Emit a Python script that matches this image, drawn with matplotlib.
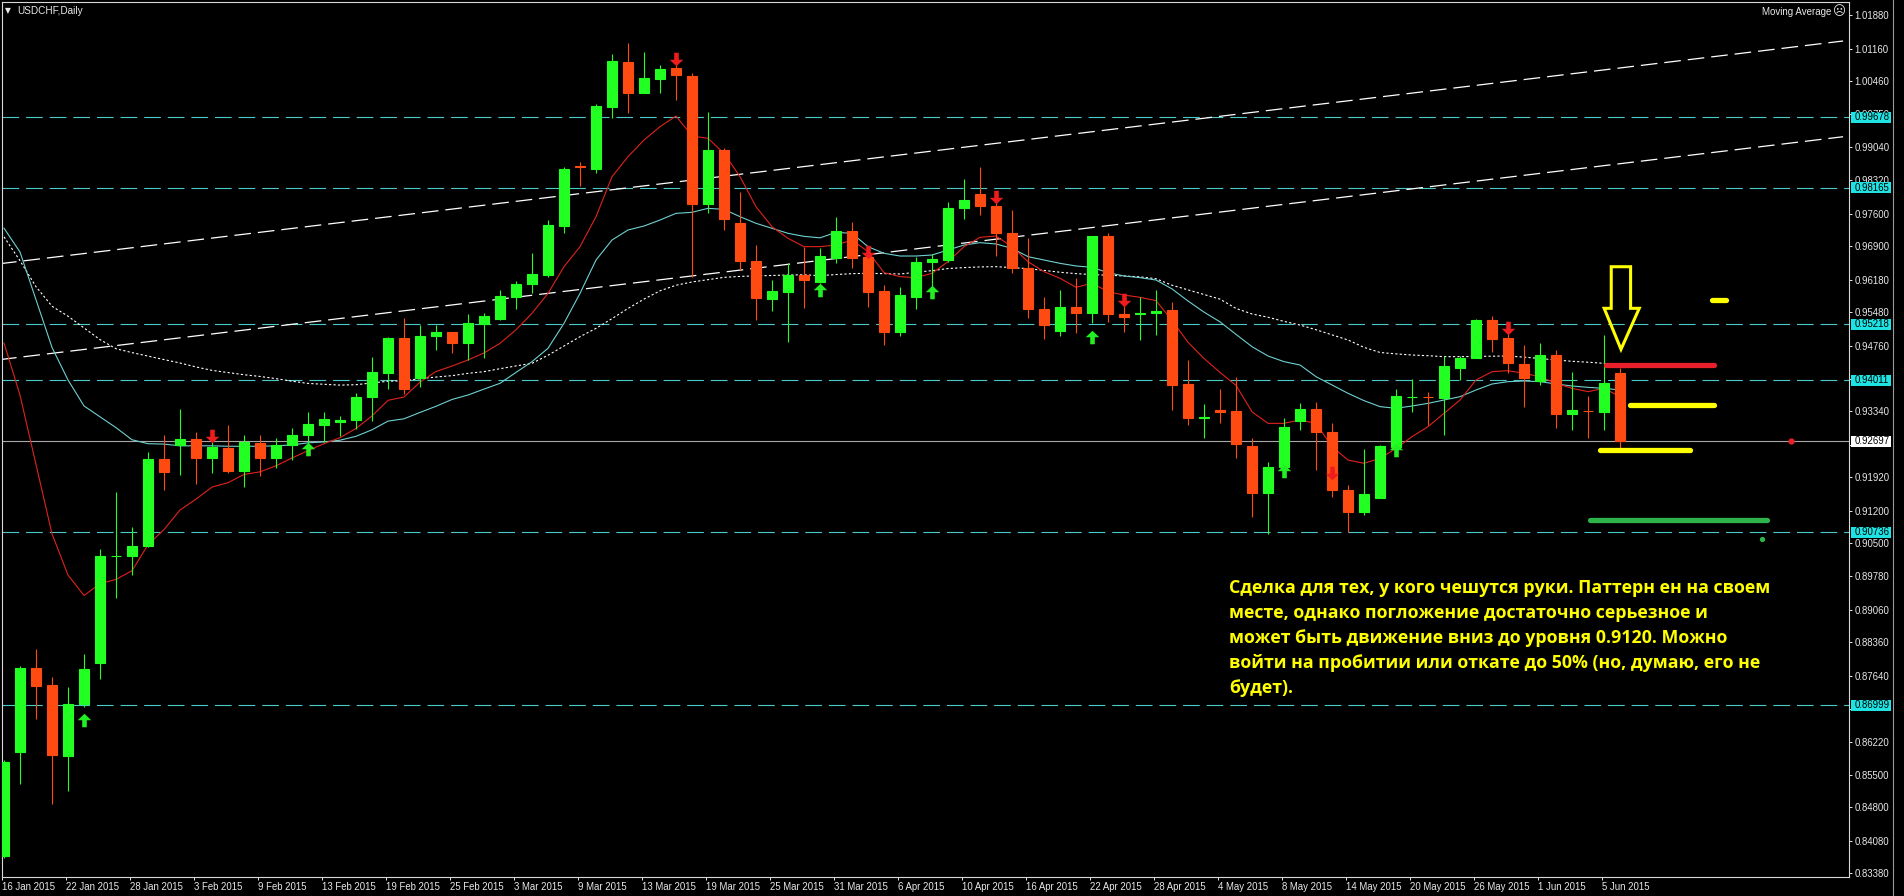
import matplotlib
matplotlib.use('Agg')
import matplotlib.pyplot as plt
from matplotlib.patches import Rectangle, Polygon
from matplotlib.path import Path
from matplotlib.lines import Line2D
from matplotlib.transforms import blended_transform_factory

plt.rcParams['lines.scale_dashes'] = False

# Daily candles, 16 Jan 2015 .. 8 Jun 2015 (index 0 .. 101)
opens = [0.83753, 0.86005, 0.87800, 0.87435, 0.85902, 0.87024, 0.87922, 0.90212, 0.90231, 0.90437,
         0.92307, 0.92606, 0.92746, 0.92325, 0.92559, 0.92045, 0.92662, 0.92325, 0.92606, 0.92840,
         0.93055, 0.93101, 0.93148, 0.93644, 0.94177, 0.94915, 0.94055, 0.94962, 0.95044, 0.94807,
         0.95224, 0.95332, 0.95814, 0.96079, 0.96281, 0.97344, 0.98638, 0.98573, 0.99910, 1.00880,
         1.00198, 1.00514, 1.00736, 1.00578, 0.97804, 0.98976, 0.97395, 0.96575, 0.95770, 0.95921,
         0.96281, 0.96137, 0.96654, 0.97229, 0.96676, 0.95936, 0.95059, 0.95813, 0.96554, 0.96604,
         0.97718, 0.98027, 0.97768, 0.97193, 0.96424, 0.95555, 0.95080, 0.95583, 0.95461, 0.97121,
         0.95432, 0.95440, 0.95468, 0.95526, 0.93923, 0.93204, 0.93370, 0.93341, 0.92601, 0.91573,
         0.92134, 0.93140, 0.93384, 0.92902, 0.91645, 0.91178, 0.91479, 0.92579, 0.93650, 0.93657,
         0.93636, 0.94282, 0.94484, 0.95310, 0.94915, 0.94354, 0.94002, 0.94548, 0.93276, 0.93348,
         0.93334, 0.94160]
highs = [0.85820, 0.87850, 0.88221, 0.87613, 0.87407, 0.88109, 0.90371, 0.91606, 0.90839, 0.92456,
         0.92830, 0.93382, 0.92896, 0.92709, 0.93036, 0.92821, 0.92840, 0.92756, 0.92980, 0.93335,
         0.93316, 0.93242, 0.93737, 0.94504, 0.94943, 0.95355, 0.95205, 0.95205, 0.95060, 0.95433,
         0.95454, 0.95957, 0.96158, 0.96748, 0.97467, 0.98616, 0.98717, 0.99967, 1.01046, 1.01276,
         1.01096, 1.00808, 1.00880, 1.00643, 0.99802, 0.99012, 0.98077, 0.96927, 0.96173, 0.96532,
         0.96891, 0.96855, 0.97538, 0.97430, 0.96855, 0.96065, 0.96029, 0.96676, 0.96733, 0.97862,
         0.98343, 0.98616, 0.97898, 0.97682, 0.97071, 0.95813, 0.95957, 0.96209, 0.97121, 0.97179,
         0.95741, 0.95813, 0.95957, 0.95705, 0.94448, 0.93499, 0.93815, 0.94088, 0.92773, 0.92256,
         0.93190, 0.93513, 0.93549, 0.93097, 0.91753, 0.92522, 0.92615, 0.93815, 0.94031, 0.93765,
         0.94534, 0.94534, 0.95325, 0.95396, 0.95274, 0.94771, 0.94807, 0.94663, 0.94196, 0.93679,
         0.94987, 0.94268]
lows = [0.83720, 0.85304, 0.86706, 0.84873, 0.85163, 0.86958, 0.87566, 0.89315, 0.89810, 0.90418,
        0.91652, 0.91961, 0.91774, 0.92008, 0.92008, 0.91708, 0.91942, 0.92129, 0.92288, 0.92568,
        0.92690, 0.92802, 0.92961, 0.93130, 0.93821, 0.93709, 0.93859, 0.94663, 0.94592, 0.94448,
        0.94484, 0.95310, 0.95540, 0.95885, 0.96245, 0.97179, 0.98207, 0.98487, 0.99673, 0.99781,
        1.00198, 1.00198, 1.00054, 0.96245, 0.97610, 0.97251, 0.96389, 0.95310, 0.95505, 0.94843,
        0.95562, 0.96101, 0.96532, 0.96424, 0.95598, 0.94771, 0.94973, 0.95540, 0.95993, 0.96568,
        0.97481, 0.97574, 0.96690, 0.96317, 0.95346, 0.94901, 0.94973, 0.95023, 0.95238, 0.95274,
        0.95059, 0.94879, 0.94987, 0.93370, 0.93046, 0.92759, 0.93097, 0.92342, 0.91070, 0.90696,
        0.92112, 0.92938, 0.92076, 0.91501, 0.90747, 0.91106, 0.91465, 0.92507, 0.93319, 0.93046,
        0.92831, 0.94017, 0.94484, 0.94627, 0.94160, 0.93442, 0.93909, 0.92974, 0.92938, 0.92759,
        0.92938, 0.92543]
closes = [0.85790, 0.87809, 0.87426, 0.85930, 0.87033, 0.87791, 0.90212, 0.90231, 0.90437, 0.92307,
          0.92026, 0.92746, 0.92325, 0.92568, 0.92045, 0.92671, 0.92325, 0.92606, 0.92840, 0.93064,
          0.93167, 0.93148, 0.93644, 0.94186, 0.94925, 0.93821, 0.94962, 0.95055, 0.94807, 0.95239,
          0.95397, 0.95828, 0.96087, 0.96295, 0.97359, 0.98559, 0.98609, 0.99924, 1.00895, 1.00205,
          1.00521, 1.00722, 1.00586, 0.97804, 0.98976, 0.97481, 0.96582, 0.95778, 0.95936, 0.96281,
          0.96173, 0.96690, 0.97229, 0.96654, 0.95921, 0.95059, 0.95849, 0.96561, 0.96618, 0.97718,
          0.97898, 0.97768, 0.97193, 0.96424, 0.95555, 0.95195, 0.95590, 0.95468, 0.97121, 0.95432,
          0.95375, 0.95468, 0.95511, 0.93916, 0.93190, 0.93226, 0.93334, 0.92629, 0.91573, 0.92148,
          0.92996, 0.93384, 0.92902, 0.91645, 0.91178, 0.91551, 0.92593, 0.93671, 0.93657, 0.93650,
          0.94318, 0.94498, 0.95310, 0.94908, 0.94376, 0.94052, 0.94548, 0.93276, 0.93370, 0.93340,
          0.93945, 0.92697]

# moving averages
ma_fast = [0.94813, 0.93690, 0.92195, 0.90699, 0.89810, 0.89371, 0.89623, 0.89717, 0.89904, 0.90465,
           0.90792, 0.91213, 0.91447, 0.91708, 0.91802, 0.91980, 0.92036, 0.92167, 0.92335, 0.92494,
           0.92643, 0.92774, 0.92971, 0.93242, 0.93578, 0.93650, 0.93971, 0.94200, 0.94317, 0.94448,
           0.94600, 0.94807, 0.95100, 0.95454, 0.95885, 0.96460, 0.96892, 0.97538, 0.98401, 0.98832,
           0.99191, 0.99479, 0.99709, 0.99278, 0.99227, 0.98904, 0.98401, 0.97754, 0.97322, 0.97071,
           0.96892, 0.96892, 0.96927, 0.97035, 0.96784, 0.96331, 0.96245, 0.96223, 0.96317, 0.96568,
           0.96891, 0.97093, 0.97121, 0.96891, 0.96568, 0.96352, 0.96209, 0.96015, 0.96101, 0.95921,
           0.95849, 0.95799, 0.95727, 0.95300, 0.94830, 0.94480, 0.94180, 0.93900, 0.93330, 0.93082,
           0.93082, 0.93154, 0.93082, 0.92579, 0.92291, 0.92220, 0.92327, 0.92543, 0.92795, 0.93010,
           0.93298, 0.93585, 0.94017, 0.94196, 0.94218, 0.94160, 0.94088, 0.93945, 0.93837, 0.93765,
           0.93837, 0.93657]
ma_mid = [0.97290, 0.96776, 0.95748, 0.94719, 0.94018, 0.93457, 0.93223, 0.92989, 0.92728, 0.92643,
          0.92634, 0.92597, 0.92597, 0.92597, 0.92588, 0.92588, 0.92588, 0.92597, 0.92616, 0.92662,
          0.92681, 0.92718, 0.92802, 0.92943, 0.93130, 0.93180, 0.93317, 0.93450, 0.93597, 0.93693,
          0.93820, 0.93945, 0.94180, 0.94412, 0.94700, 0.95239, 0.95885, 0.96604, 0.97035, 0.97251,
          0.97337, 0.97466, 0.97610, 0.97632, 0.97718, 0.97696, 0.97538, 0.97395, 0.97287, 0.97179,
          0.97114, 0.97082, 0.97200, 0.97179, 0.96891, 0.96748, 0.96690, 0.96690, 0.96712, 0.96820,
          0.96927, 0.96978, 0.96949, 0.96855, 0.96676, 0.96604, 0.96532, 0.96475, 0.96446, 0.96331,
          0.96259, 0.96223, 0.96173, 0.95980, 0.95720, 0.95480, 0.95270, 0.95000, 0.94735, 0.94534,
          0.94412, 0.94340, 0.94088, 0.93909, 0.93729, 0.93571, 0.93442, 0.93406, 0.93456, 0.93513,
          0.93585, 0.93657, 0.93801, 0.93930, 0.93981, 0.93995, 0.93981, 0.93930, 0.93887, 0.93858,
          0.93837, 0.93801]
ma_slow = [0.97103, 0.96589, 0.96028, 0.95607, 0.95392, 0.95140, 0.94887, 0.94691, 0.94607, 0.94532,
           0.94457, 0.94383, 0.94298, 0.94224, 0.94177, 0.94130, 0.94093, 0.94046, 0.93990, 0.93943,
           0.93924, 0.93906, 0.93915, 0.93953, 0.93990, 0.94000, 0.94046, 0.94080, 0.94110, 0.94160,
           0.94196, 0.94260, 0.94320, 0.94376, 0.94550, 0.94750, 0.94950, 0.95130, 0.95340, 0.95560,
           0.95760, 0.95940, 0.96060, 0.96130, 0.96180, 0.96230, 0.96250, 0.96262, 0.96270, 0.96280,
           0.96285, 0.96266, 0.96290, 0.96310, 0.96317, 0.96310, 0.96302, 0.96340, 0.96374, 0.96420,
           0.96440, 0.96455, 0.96460, 0.96440, 0.96417, 0.96380, 0.96340, 0.96310, 0.96290, 0.96275,
           0.96260, 0.96240, 0.96200, 0.96060, 0.95960, 0.95860, 0.95760, 0.95560, 0.95440, 0.95370,
           0.95280, 0.95202, 0.95100, 0.94990, 0.94879, 0.94720, 0.94610, 0.94580, 0.94555, 0.94540,
           0.94520, 0.94520, 0.94525, 0.94530, 0.94534, 0.94510, 0.94480, 0.94448, 0.94420, 0.94400,
           0.94376, 0.94350]

# horizontal levels and current bid
levels = [0.99678, 0.98165, 0.95218, 0.94011, 0.90736, 0.86999]
bid = 0.92697

# price axis (labels fully hidden under the level boxes are left blank)
price_ticks = [1.01880, 1.01160, 1.00460, 0.99750, 0.99040, 0.98320, 0.97600, 0.96900, 0.96180,
               0.95480, 0.94760, 0.94040, 0.93340, 0.92620, 0.91920, 0.91200, 0.90500, 0.89780,
               0.89060, 0.88360, 0.87640, 0.86920, 0.86220, 0.85500, 0.84800, 0.84080, 0.83380]
hidden_ticks = [0.94040, 0.92620, 0.86920]

# time axis
date_pos = list(range(0, 101, 4))
date_labels = ['16 Jan 2015', '22 Jan 2015', '28 Jan 2015', '3 Feb 2015', '9 Feb 2015',
               '13 Feb 2015', '19 Feb 2015', '25 Feb 2015', '3 Mar 2015', '9 Mar 2015',
               '13 Mar 2015', '19 Mar 2015', '25 Mar 2015', '31 Mar 2015', '6 Apr 2015',
               '10 Apr 2015', '16 Apr 2015', '22 Apr 2015', '28 Apr 2015', '4 May 2015',
               '8 May 2015', '14 May 2015', '20 May 2015', '26 May 2015', '1 Jun 2015', '5 Jun 2015']

# channel trend lines (start / end)
chan_x = [-0.25, 114.94]
chan_upper = [0.96524, 1.01326]
chan_lower = [0.94456, 0.99262]

# signal arrows
up_idx = [5, 19, 51, 58, 68, 80, 87]
up_y = [0.86688, 0.92522, 0.95957, 0.95921, 0.94951, 0.92045, 0.92507]
dn_idx = [13, 42, 54, 62, 70, 83, 94]
dn_y = [0.92803, 1.00931, 0.96783, 0.97969, 0.95741, 0.92010, 0.95131]

# hand-drawn marks
marks = [  # x0, x1, price, colour
    (100.15, 106.9, 0.94333, '#e8202a'),
    (101.6, 106.9, 0.93471, '#ffff00'),
    (99.75, 105.4, 0.92507, '#ffff00'),
    (99.1, 110.2, 0.90998, '#2db34a'),
    (106.75, 107.6, 0.95737, '#ffff00'),
]
dots = [(111.7, 0.92700, '#e8202a', 3.5), (109.9, 0.90590, '#2db34a', 2.8)]
arrow_x = [100.45, 101.66, 101.66, 102.2, 101.06, 100.01, 100.45]
arrow_y = [0.96459, 0.96459, 0.95562, 0.95562, 0.94678, 0.95562, 0.95562]

note_lines = ['Сделка для тех, у кого чешутся руки. Паттерн ен на своем',
              'месте, однако погложение достаточно серьезное и',
              'может быть движение вниз до уровня 0.9120. Можно',
              'войти на пробитии или откате до 50% (но, думаю, его не',
              'будет).']

W, H = 1904, 896
BULL, BEAR = '#22ff22', '#ff4a12'
AXFONT = 'Liberation Sans'


def px(x, y):
    return x / W, 1 - y / H


fig = plt.figure(figsize=(W / 100, H / 100), dpi=100, facecolor='black')
ax = fig.add_axes([2 / W, 19 / H, 1847 / W, 875 / H])
ax.set_facecolor('black')
ax.set_xlim(-0.125, 115.31)
ax.set_ylim(0.83300, 1.02167)

# levels, bid line, channel
for lv in levels:
    ax.axhline(lv, color='#4cc9c9', lw=0.8, ls=(0, (12, 5)), zorder=1)
ax.axhline(bid, color='#a8a8a8', lw=0.8, zorder=1)
for ys in (chan_upper, chan_lower):
    ax.plot(chan_x, ys, color='white', lw=0.9, ls=(0, (12, 5)), zorder=1)

# moving averages
xs = list(range(len(closes)))
ax.plot(xs, ma_slow, color='white', lw=0.8, ls=(0, (1.6, 1.6)), zorder=2)
ax.plot(xs, ma_mid, color='#6fd0d2', lw=0.8, zorder=2)
ax.plot(xs, ma_fast, color='#e0231c', lw=0.8, zorder=2)

# candles
for i, (o, h, l, c) in enumerate(zip(opens, highs, lows, closes)):
    col = BULL if c >= o else BEAR
    ax.vlines(i, l, h, color=col, lw=0.8, zorder=3)
    ax.add_patch(Rectangle((i - 0.31, min(o, c)), 0.62, max(abs(c - o), 1e-7),
                           facecolor=col, edgecolor=col, lw=0.8, zorder=4))

# signal arrows
arrow_up = Path([(0, 0.5), (0.5, 0.02), (0.17, 0.02), (0.17, -0.5), (-0.17, -0.5),
                 (-0.17, 0.02), (-0.5, 0.02), (0, 0.5)], closed=True)
arrow_dn = Path([(x, -y) for x, y in arrow_up.vertices], closed=True)
ax.scatter(up_idx, up_y, marker=arrow_up, s=95, color='#22ee22', lw=0, zorder=5)
ax.scatter(dn_idx, dn_y, marker=arrow_dn, s=95, color='#ee1c1c', lw=0, zorder=5)

# hand-drawn lines, dots and arrow
for x0, x1, p, col in marks:
    ax.plot([x0, x1], [p, p], color=col, lw=3.8, solid_capstyle='round', zorder=6)
for x, p, col, ms in dots:
    ax.plot([x], [p], 'o', color=col, ms=ms, zorder=6)
ax.add_patch(Polygon(list(zip(arrow_x, arrow_y)), closed=True, fill=False,
                     edgecolor='#ffff00', lw=2.2, joinstyle='miter', zorder=6))

# axes styling
for s in ax.spines.values():
    s.set_color('#d8d8d8')
    s.set_linewidth(0.8)
ax.yaxis.tick_right()
ax.set_yticks(price_ticks)
ax.set_yticklabels(['' if v in hidden_ticks else f'{v:.5f}' for v in price_ticks])
ax.set_xticks([p - 0.1 for p in date_pos])
ax.set_xticklabels(date_labels)
ax.tick_params(axis='y', colors='#e8e8e8', length=2.5, width=0.7, pad=1.5, labelsize=6.9)
ax.tick_params(axis='x', colors='#e8e8e8', length=2.5, width=0.7, pad=1.0, labelsize=6.9)
for lab in ax.get_xticklabels():
    lab.set_ha('left')
    lab.set_fontfamily(AXFONT)
for lab in ax.get_yticklabels():
    lab.set_fontfamily(AXFONT)

# price labels on the right axis
trans = blended_transform_factory(ax.transAxes, ax.transData)
box_h = 11 / 4637.8
for lv, fc in [(v, '#1fe2e2') for v in levels] + [(bid, 'white')]:
    ax.add_patch(Rectangle((1.0011, lv - box_h / 2), 0.0216, box_h, transform=trans,
                           facecolor=fc, edgecolor='none', clip_on=False, zorder=7))
    ax.text(1.0031, lv, f'{lv:.5f}', transform=trans, color='black', fontsize=6.9,
            fontfamily=AXFONT, va='center', ha='left', clip_on=False, zorder=8)

# window chrome
fig.add_artist(Line2D([1893 / W] * 2, [0, 1], color='#9a9a9a', lw=0.8))
fig.text(*px(5, 11), '▼', color='#e8e8e8', fontsize=5.5, va='center', ha='left')
fig.text(*px(17, 11), 'USDCHF,Daily', color='#e8e8e8', fontsize=7.2,
         fontfamily=AXFONT, va='center', ha='left')
fig.text(*px(1831, 12), 'Moving Average', color='#e8e8e8', fontsize=7.0,
         fontfamily=AXFONT, va='center', ha='right')
fig.text(*px(1839, 12), '☹', color='#e8e8e8', fontsize=9, va='center', ha='center')

# yellow note, fitted to the measured width of the first line
note_y = [588, 613, 638, 663, 688]
texts = []
for line, y in zip(note_lines, note_y):
    texts.append(fig.text(*px(1229, y), line, color='#ffff00', fontsize=14, fontweight='bold',
                          family=['Liberation Sans Narrow', 'Open Sans'], va='center', ha='left'))
fig.canvas.draw()
w = texts[0].get_window_extent(fig.canvas.get_renderer()).width
for t in texts:
    t.set_fontsize(14 * 544 / w)

fig.savefig('out.png', dpi=100, facecolor='black')
